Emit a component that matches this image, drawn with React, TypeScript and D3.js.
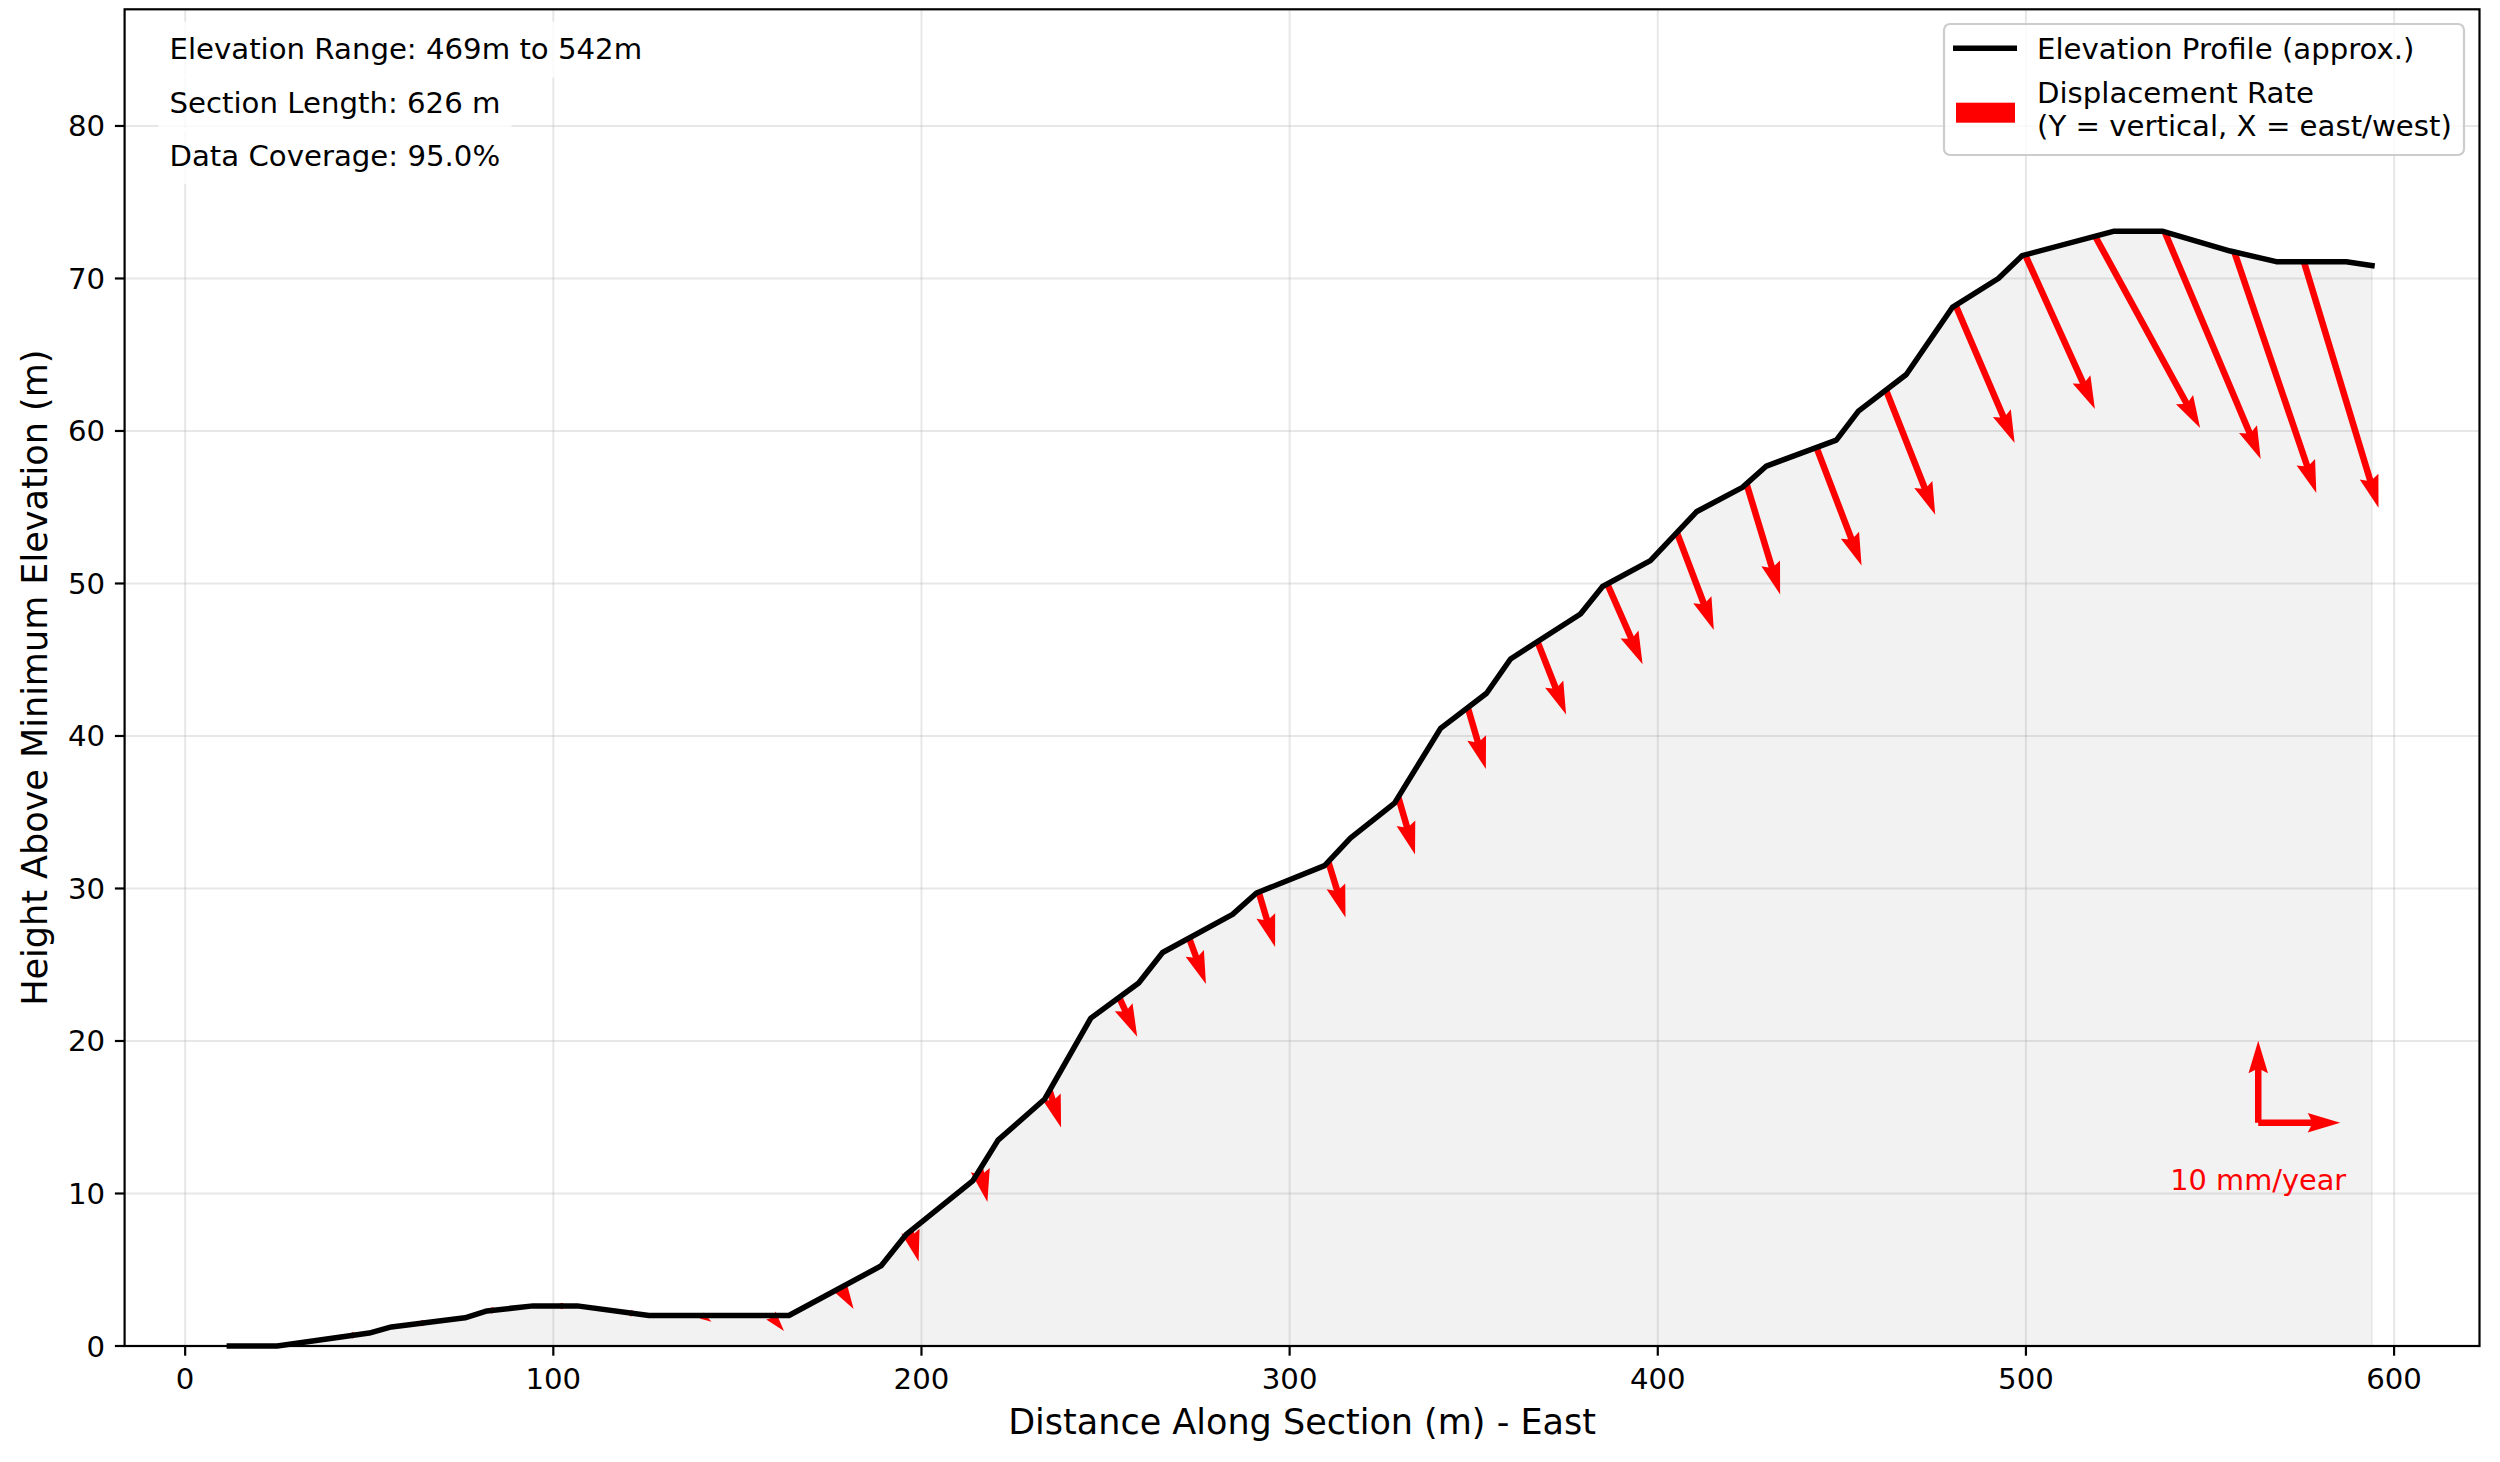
import React, { useEffect, useRef } from "react";
import * as d3 from "d3";

// elevation profile (m along section, m above minimum)
const profileDist = [
  12, 25, 50, 56, 76, 82, 94.5, 106.5, 126, 164, 189, 195.8, 214, 220.8, 233.5,
  246, 259, 265.5, 284.5, 291, 309.5, 316.5, 328.5, 341, 353.5, 360, 379, 385,
  398, 410.5, 423, 429.5, 448.5, 454.5, 467.5, 480, 492.5, 499, 524, 537, 555.5,
  568, 587, 594,
];
const profileHeight = [
  0, 0, 0.85, 1.25, 1.85, 2.3, 2.63, 2.63, 2.0, 2.0, 5.25, 7.3, 10.85, 13.5,
  16.2, 21.5, 23.8, 25.8, 28.3, 29.7, 31.5, 33.3, 35.6, 40.5, 42.8, 45.05, 48.0,
  49.8, 51.5, 54.7, 56.3, 57.7, 59.4, 61.3, 63.7, 68.1, 70.0, 71.5, 73.1, 73.1,
  71.8, 71.1, 71.1, 70.85,
];

// displacement vectors (mm/year) anchored on the profile
const arrowDist = [
  45.5, 64.4, 83.4, 102.3, 121.2, 140.2, 159.1, 178.0, 197.0, 215.9, 234.8,
  253.7, 272.7, 291.6, 310.5, 329.5, 348.4, 367.3, 386.3, 405.2, 424.1, 443.1,
  462.0, 480.9, 499.8, 518.8, 537.7, 556.6, 575.5,
];
const arrowBase = [
  0.7, 1.5, 2.34, 2.63, 2.15, 2.0, 2.0, 3.82, 7.53, 11.6, 16.75, 22.86, 26.75,
  29.76, 31.76, 36.0, 41.86, 46.2, 49.97, 53.34, 56.54, 58.92, 62.68, 68.24,
  71.55, 72.77, 73.05, 71.74, 71.1,
];
const arrowEast = [
  0.5, 0.4, 0.4, 0.3, 0.6, 1.25, 1.6, 1.6, 1.0, 0.9, 1.4, 2.2, 2.05, 2.0, 2.1,
  2.05, 2.2, 3.5, 4.3, 4.5, 4.1, 5.5, 6.0, 7.2, 8.5, 12.8, 11.7, 10.0, 9.1,
];
const arrowVert = [
  -0.3, -0.3, -0.4, -0.2, -0.5, -0.75, -1.9, -2.6, -3.7, -4.0, -4.5, -4.8, -5.6,
  -6.7, -6.8, -7.0, -7.5, -8.9, -9.8, -11.9, -13.5, -14.4, -15.2, -16.8, -18.8,
  -23.4, -27.7, -29.4, -30.0,
];

const xTicks = [0, 100, 200, 300, 400, 500, 600];
const yTicks = [0, 10, 20, 30, 40, 50, 60, 70, 80];
const statLines = [
  "Elevation Range: 469m to 542m",
  "Section Length: 626 m",
  "Data Coverage: 95.0%",
];
const legendProfile = "Elevation Profile (approx.)";
const legendArrow = ["Displacement Rate", "(Y = vertical, X = east/west)"];
const refLabel = "10 mm/year";
const refRate = 10;

const W = 2500;
const H = 1462;
const FONT = "DejaVu Sans, Verdana, sans-serif";
const FS = 29.2;
const FS_LABEL = 35;
const PX_PER_MM = 8.2;
const SHAFT = 6.5;

// matplotlib-style quiver arrow outline, along +x, length in px
function arrowOutline(len: number): [number, number][] {
  const w = SHAFT;
  if (len < w) {
    return d3.range(6).map((k) => {
      const t = (k * Math.PI) / 3;
      return [Math.cos(t) * 0.5 * w, Math.sin(t) * 0.5 * w] as [number, number];
    });
  }
  if (len < 5 * w) {
    const s = len / (5 * w);
    const base: [number, number][] = [
      [0, 0.5], [0.5, 0.5], [0, 1.5], [5, 0], [0, -1.5], [0.5, -0.5], [0, -0.5],
    ];
    return base.map(([a, b]) => [a * w * s, b * w * s]);
  }
  return [
    [0, 0.5 * w],
    [len - 4.5 * w, 0.5 * w],
    [len - 5 * w, 1.5 * w],
    [len, 0],
    [len - 5 * w, -1.5 * w],
    [len - 4.5 * w, -0.5 * w],
    [0, -0.5 * w],
  ];
}

const App: React.FC = () => {
  const ref = useRef<SVGSVGElement>(null);

  useEffect(() => {
    const svg = d3.select(ref.current);
    svg.selectAll("*").remove();

    const left = 124.6, right = 2479.5, top = 9.3, bottom = 1346;
    const x = d3.scaleLinear().domain([-16.45, 623.2]).range([left, right]);
    const y = d3.scaleLinear().domain([0, 87.65]).range([bottom, top]);

    svg.append("rect").attr("width", W).attr("height", H).attr("fill", "#fff");

    // grid
    svg
      .append("g")
      .selectAll("line")
      .data(xTicks)
      .join("line")
      .attr("x1", (d) => x(d))
      .attr("x2", (d) => x(d))
      .attr("y1", top)
      .attr("y2", bottom)
      .attr("stroke", "#b0b0b0")
      .attr("stroke-opacity", 0.3)
      .attr("stroke-width", 2);
    svg
      .append("g")
      .selectAll("line")
      .data(yTicks)
      .join("line")
      .attr("x1", left)
      .attr("x2", right)
      .attr("y1", (d) => y(d))
      .attr("y2", (d) => y(d))
      .attr("stroke", "#b0b0b0")
      .attr("stroke-opacity", 0.3)
      .attr("stroke-width", 2);

    // filled ground
    const area = d3
      .area<number>()
      .x((_, i) => x(profileDist[i]))
      .y0(y(0))
      .y1((d) => y(d));
    svg
      .append("path")
      .datum(profileHeight)
      .attr("d", area)
      .attr("fill", "#808080")
      .attr("fill-opacity", 0.1)
      .attr("stroke", "#808080")
      .attr("stroke-opacity", 0.1)
      .attr("stroke-width", 2);

    // displacement arrows
    const drawArrow = (
      parent: d3.Selection<any, any, any, any>,
      tx: number,
      ty: number,
      dx: number,
      dy: number
    ) => {
      const len = Math.hypot(dx, dy);
      const ang = (Math.atan2(dy, dx) * 180) / Math.PI;
      parent
        .append("polygon")
        .attr("points", arrowOutline(len).map((p) => p.join(",")).join(" "))
        .attr("transform", `translate(${tx},${ty}) rotate(${ang})`)
        .attr("fill", "#ff0000");
    };
    const arrows = svg.append("g");
    arrowDist.forEach((d, i) => {
      drawArrow(
        arrows,
        x(d),
        y(arrowBase[i]),
        arrowEast[i] * PX_PER_MM,
        -arrowVert[i] * PX_PER_MM
      );
    });

    // profile line
    const line = d3
      .line<number>()
      .x((_, i) => x(profileDist[i]))
      .y((d) => y(d));
    svg
      .append("path")
      .datum(profileHeight)
      .attr("d", line)
      .attr("fill", "none")
      .attr("stroke", "#000")
      .attr("stroke-width", 5.5)
      .attr("stroke-linejoin", "round")
      .attr("stroke-linecap", "square");

    // scale reference
    const rx = x(563.1), ry = y(14.64);
    const refLen = refRate * PX_PER_MM;
    drawArrow(svg, rx, ry, 0, -refLen);
    drawArrow(svg, rx, ry, refLen, 0);
    svg
      .append("text")
      .attr("x", rx)
      .attr("y", y(10.23))
      .attr("text-anchor", "middle")
      .attr("font-family", FONT)
      .attr("font-size", 28.8)
      .attr("fill", "#ff0000")
      .text(refLabel);

    // spines
    svg
      .append("rect")
      .attr("x", left)
      .attr("y", top)
      .attr("width", right - left)
      .attr("height", bottom - top)
      .attr("fill", "none")
      .attr("stroke", "#000")
      .attr("stroke-width", 2.2);

    // ticks
    const tickLen = 9.7;
    const xt = svg.append("g");
    xTicks.forEach((t) => {
      xt.append("line")
        .attr("x1", x(t))
        .attr("x2", x(t))
        .attr("y1", bottom)
        .attr("y2", bottom + tickLen)
        .attr("stroke", "#000")
        .attr("stroke-width", 2.2);
      xt.append("text")
        .attr("x", x(t))
        .attr("y", 1389)
        .attr("text-anchor", "middle")
        .attr("font-family", FONT)
        .attr("font-size", FS)
        .text(String(t));
    });
    const yt = svg.append("g");
    yTicks.forEach((t) => {
      yt.append("line")
        .attr("x1", left - tickLen)
        .attr("x2", left)
        .attr("y1", y(t))
        .attr("y2", y(t))
        .attr("stroke", "#000")
        .attr("stroke-width", 2.2);
      yt.append("text")
        .attr("x", left - 2 * tickLen)
        .attr("y", y(t) + 10.5)
        .attr("text-anchor", "end")
        .attr("font-family", FONT)
        .attr("font-size", FS)
        .text(String(t));
    });

    // axis labels
    svg
      .append("text")
      .attr("x", (left + right) / 2)
      .attr("y", 1434)
      .attr("text-anchor", "middle")
      .attr("font-family", FONT)
      .attr("font-size", FS_LABEL)
      .text("Distance Along Section (m) - East");
    svg
      .append("text")
      .attr("transform", `translate(46.7,${(top + bottom) / 2}) rotate(-90)`)
      .attr("text-anchor", "middle")
      .attr("font-family", FONT)
      .attr("font-size", FS_LABEL)
      .text("Height Above Minimum Elevation (m)");

    // info boxes
    const baselines = [59.3, 113.3, 165.7];
    statLines.forEach((s, i) => {
      const g = svg.append("g");
      const r = g.append("rect");
      const t = g
        .append("text")
        .attr("x", 169.5)
        .attr("y", baselines[i])
        .attr("font-family", FONT)
        .attr("font-size", FS)
        .text(s);
      const wText = (t.node() as SVGTextElement).getComputedTextLength();
      r.attr("x", 169.5 - 11.1)
        .attr("y", baselines[i] - 37.6)
        .attr("width", wText + 22.2)
        .attr("height", 56)
        .attr("fill", "#fff")
        .attr("fill-opacity", 0.8);
    });

    // legend
    const lg = svg.append("g");
    lg.append("rect")
      .attr("x", 1944)
      .attr("y", 24)
      .attr("width", 520)
      .attr("height", 131)
      .attr("rx", 6)
      .attr("fill", "#fff")
      .attr("fill-opacity", 0.8)
      .attr("stroke", "#cccccc")
      .attr("stroke-width", 2.2);
    lg.append("line")
      .attr("x1", 1953)
      .attr("x2", 2017)
      .attr("y1", 48.3)
      .attr("y2", 48.3)
      .attr("stroke", "#000")
      .attr("stroke-width", 5.5);
    lg.append("text")
      .attr("x", 2037)
      .attr("y", 59.3)
      .attr("font-family", FONT)
      .attr("font-size", FS)
      .text(legendProfile);
    lg.append("rect")
      .attr("x", 1956)
      .attr("y", 102.7)
      .attr("width", 59)
      .attr("height", 20)
      .attr("fill", "#ff0000");
    legendArrow.forEach((s, i) => {
      lg.append("text")
        .attr("x", 2037)
        .attr("y", [102.7, 136][i])
        .attr("font-family", FONT)
        .attr("font-size", FS)
        .text(s);
    });
  }, []);

  return (
    <svg
      ref={ref}
      width={W}
      height={H}
      style={{ position: "absolute", left: 0, top: 0, display: "block" }}
    />
  );
};

export default App;
